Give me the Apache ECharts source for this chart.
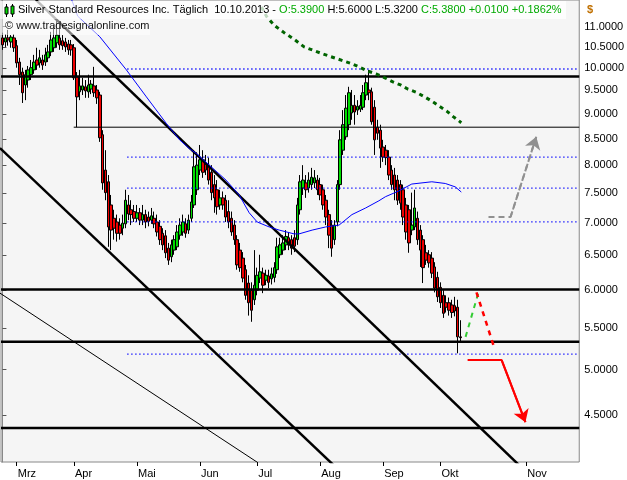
<!DOCTYPE html>
<html><head><meta charset="utf-8">
<script src="https://cdn.jsdelivr.net/npm/echarts@6/dist/echarts.min.js"></script>
<style>html,body{margin:0;padding:0;background:#fff}#c{width:627px;height:480px}</style>
</head><body><div id="c"></div>
<script>
// ---- data ----
const opens = [10.72,10.62,10.72,10.62,10.72,10.53,10.14,9.91,9.62,9.73,
9.85,9.96,10.19,10.12,10.19,10.14,10.24,10.38,10.48,10.60,
10.72,10.65,10.62,10.57,10.55,10.48,9.80,9.47,9.51,9.58,
9.47,9.53,9.60,9.51,9.40,8.58,7.91,7.70,7.30,7.08,
7.02,6.97,6.92,6.99,7.30,7.22,7.19,7.08,7.17,7.05,
7.14,7.10,7.05,7.08,7.02,6.95,6.84,6.80,6.61,6.48,
6.58,6.63,6.81,6.86,6.99,6.89,7.08,7.30,7.56,7.91,
8.10,8.02,8.00,7.87,7.65,7.56,7.30,7.42,7.38,7.19,
7.08,6.97,6.74,6.58,6.46,6.29,6.10,6.00,5.87,6.00,
6.17,6.24,6.14,6.20,6.16,6.18,6.29,6.51,6.58,6.66,
6.77,6.74,6.77,6.74,7.22,7.59,7.68,7.59,7.65,7.68,
7.73,7.65,7.56,7.38,7.14,6.97,6.74,7.02,7.65,8.28,
8.54,8.78,9.02,9.18,9.08,9.10,9.14,9.40,9.51,9.47,
9.14,8.73,8.67,8.34,8.28,8.15,7.91,7.82,7.73,7.65,
7.56,7.30,7.22,6.89,6.94,7.08,6.89,6.74,6.54,6.51,
6.46,6.33,6.18,6.04,5.93,5.83,5.83,5.80,5.79,5.77,
5.39];
const closes = [10.55,10.72,10.67,10.74,10.48,10.12,9.85,9.45,9.85,9.96,
10.01,10.14,10.07,10.24,10.07,10.31,10.38,10.67,10.72,10.79,
10.55,10.53,10.50,10.43,10.43,9.78,9.36,9.60,9.60,9.49,
9.62,9.64,9.45,9.34,8.52,7.68,7.51,6.94,6.89,6.92,
6.84,6.84,7.00,7.38,7.15,7.14,7.08,7.17,7.05,7.14,
7.02,7.03,7.12,6.99,6.86,6.74,6.66,6.54,6.43,6.66,
6.74,6.86,6.97,7.02,6.84,7.05,7.35,7.97,8.00,8.10,
7.87,7.91,7.73,7.51,7.42,7.27,7.42,7.30,7.10,7.02,
6.86,6.74,6.36,6.32,6.17,5.93,5.83,5.73,6.07,6.21,
6.26,6.07,6.21,6.11,6.23,6.32,6.63,6.66,6.69,6.79,
6.66,6.61,6.64,7.30,7.70,7.73,7.56,7.73,7.78,7.77,
7.56,7.47,7.30,7.10,6.81,6.61,6.97,7.65,8.48,8.78,
9.12,9.45,9.18,9.04,9.16,9.18,9.45,9.67,9.45,8.84,
8.48,8.61,8.32,8.15,8.14,7.82,7.65,7.56,7.38,7.33,
7.10,6.86,6.69,6.97,7.25,6.74,6.58,6.32,6.43,6.39,
6.24,6.03,5.91,5.83,5.69,5.77,5.73,5.70,5.72,5.39,
5.38];
const highs = [10.85,10.81,10.92,10.79,10.81,10.67,10.24,10.01,9.96,10.05,
10.19,10.31,10.48,10.43,10.31,10.48,10.55,10.87,11.04,11.17,
11.04,10.79,10.72,10.67,10.67,10.57,9.91,9.96,9.78,9.73,
9.85,9.73,10.03,9.62,9.47,8.67,8.28,7.82,7.47,7.22,
7.14,7.08,7.14,7.56,7.47,7.38,7.30,7.30,7.25,7.30,
7.22,7.19,7.25,7.19,7.14,7.05,6.92,6.89,6.69,6.74,
6.81,6.97,7.08,7.14,7.08,7.14,7.47,8.28,8.24,8.38,
8.28,8.19,8.14,8.00,7.82,7.73,7.56,7.53,7.47,7.38,
7.19,7.05,6.81,6.69,6.55,6.36,6.21,6.11,6.58,6.32,
6.51,6.32,6.29,6.29,6.32,6.40,6.77,6.77,6.81,6.89,
6.86,6.81,6.89,7.42,7.82,8.00,7.82,7.87,7.95,7.91,
7.82,7.77,7.65,7.47,7.22,7.05,7.05,7.73,8.67,9.08,
9.40,9.58,9.51,9.40,9.29,9.40,9.62,9.85,9.96,9.56,
9.29,8.88,8.78,8.48,8.38,8.28,8.00,7.95,7.82,7.73,
7.65,7.42,7.30,7.51,7.56,7.19,6.97,6.81,6.66,6.58,
6.55,6.40,6.26,6.11,6.00,5.93,5.90,5.87,5.91,5.87,
5.60];
const lows = [10.43,10.50,10.53,10.48,10.38,10.01,9.62,9.23,9.29,9.56,
9.73,9.87,9.96,10.01,9.96,10.05,10.14,10.28,10.38,10.48,
10.43,10.43,10.38,10.31,10.29,9.73,8.73,9.29,9.40,9.34,
9.34,9.42,9.36,9.21,8.44,7.56,7.38,6.63,6.58,6.74,
6.71,6.74,6.81,6.92,7.05,6.97,7.02,7.02,6.97,6.97,
6.92,6.95,6.99,6.92,6.79,6.66,6.58,6.46,6.36,6.40,
6.51,6.58,6.74,6.80,6.77,6.83,7.02,7.25,7.47,7.82,
7.77,7.82,7.65,7.38,7.17,7.14,7.22,7.22,7.02,6.92,
6.80,6.66,6.29,6.26,6.11,5.87,5.66,5.58,5.80,5.93,
6.10,5.96,6.07,6.03,6.08,6.11,6.23,6.46,6.51,6.58,
6.58,6.51,6.55,6.66,7.14,7.47,7.42,7.51,7.56,7.59,
7.47,7.38,7.22,6.97,6.61,6.48,6.66,6.95,7.56,8.19,
8.48,8.67,8.88,8.78,8.98,9.04,9.08,9.29,9.29,8.78,
8.19,8.48,7.95,8.06,8.00,7.73,7.56,7.38,7.30,7.22,
6.97,6.74,6.54,6.81,6.89,6.66,6.33,6.10,6.36,6.32,
6.17,5.97,5.84,5.76,5.63,5.70,5.66,5.63,5.65,5.19,
5.32];
const monthLabels = ['Mrz','Apr','Mai','Jun','Jul','Aug','Sep','Okt','Nov'];
const monthStartIdx = [5,25,47,69,89,111,133,153,183];
const yTicks = [4.5,5,5.5,6,6.5,7,7.5,8,8.5,9,9.5,10,10.5,11];
// moving averages [bar index, price]
const maBlue = [[24.2,11.70],[26.3,11.27],[34,10.75],[43.3,9.96],[50.3,9.36],[57.2,8.81],[61.9,8.48],[65.3,8.31],[67.7,8.22],[78.1,7.73],[82.7,7.47],[86.2,7.17],[89,7.02],[93.2,6.94],[96.7,6.89],[101.9,6.83],[103.6,6.83],[108.2,6.89],[112.9,6.94],[117.6,6.97],[122.1,7.14],[126.9,7.25],[131.5,7.37],[133.8,7.44],[138.5,7.54],[143,7.66],[150,7.70],[154.7,7.67],[158.2,7.61],[160.3,7.52]];
const maGreen = [[90.5,11.51],[92.2,11.27],[94.9,11.04],[98.4,10.85],[102.2,10.67],[105.4,10.50],[112,10.33],[118.6,10.18],[122.1,10.10],[124.8,10.02],[127.3,9.94],[130.5,9.87],[133.6,9.78],[136.4,9.69],[139.1,9.62],[141.6,9.53],[144.5,9.46],[147.2,9.37],[150,9.27],[152.7,9.16],[155.2,9.06],[157.6,8.94],[160.3,8.82]];
// drawn levels and trend lines
const thickLevels = [9.81, 6.01, 5.33, 4.37];
const thinLevel = {from: 24.9, price: 8.73};
const dottedLevels = [9.98, 8.15, 7.59, 7.02, 5.18];
const dottedFrom = 43.6;
const trendA = [[11.7,11.70],[180.6,4.01]];
const trendB = [[-0.85,8.32],[115.8,4.01]];
const trendC = [[-0.85,5.96],[89,4.04]];
const grayArrow = [[169.8,7.10],[177.5,7.10],[186.5,8.54]];
const greenDash = [[161.8,5.39],[166.3,5.97]];
const redDash = [[165.6,5.97],[171.6,5.28]];
const redArrow = [[162.5,5.11],[174.4,5.11],[182.7,4.43]];

// ---- chart ----
const N = 202;
const LN = Math.log;
const yMax = 2.4593, yMin = 1.3967;
const cats = Array.from({length: N}, (_, i) => String(i));
const candles = opens.map((o, i) => [LN(o), LN(closes[i]), LN(lows[i]), LN(highs[i])]);
const lnPts = arr => arr.map(p => [p[0], LN(p[1])]);
const isMonth = i => monthStartIdx.indexOf(i) >= 0;
const FONT = 'Liberation Sans';

const series = [{
  type: 'candlestick', xAxisIndex: 0, yAxisIndex: 0, data: candles, barWidth: 3, z: 2,
  itemStyle: {color: '#00dd00', color0: '#ee0000', borderColor: '#000', borderColor0: '#000', borderWidth: 1}
}];
function lineS(data, style, z) {
  series.push({type: 'line', xAxisIndex: 1, yAxisIndex: 0, data: data, showSymbol: false, symbol: 'none',
    lineStyle: style, z: z || 3, silent: true, animation: false});
}
thickLevels.forEach(p => lineS([[-0.5, LN(p)], [N - 0.5, LN(p)]], {color: '#000', width: 2.5}));
lineS([[thinLevel.from, LN(thinLevel.price)], [N - 0.5, LN(thinLevel.price)]], {color: '#000', width: 1});
dottedLevels.forEach(p => lineS([[dottedFrom, LN(p)], [N - 0.5, LN(p)]], {color: '#0000ff', width: 1.3, type: [1.3, 2.7]}));
lineS(lnPts(trendA), {color: '#000', width: 2.5});
lineS(lnPts(trendB), {color: '#000', width: 2.5});
lineS(lnPts(trendC), {color: '#000', width: 1});
lineS(lnPts(maBlue), {color: '#0000ff', width: 1});
lineS(lnPts(maGreen), {color: '#006400', width: 3, type: [4, 4]});
function arrowS(data, color, type, width, head) {
  const pts = lnPts(data);
  series.push({type: 'line', xAxisIndex: 1, yAxisIndex: 0, data: pts, showSymbol: false, symbol: 'none',
    lineStyle: {color: color, width: width, type: type}, z: 4, silent: true, animation: false});
  if (head) {
    series.push({type: 'lines', coordinateSystem: 'cartesian2d', xAxisIndex: 1, yAxisIndex: 0,
      symbol: ['none', 'arrow'], symbolSize: [9, 12], silent: true, animation: false, z: 5,
      lineStyle: {color: color, width: width, type: type, opacity: 1},
      data: [{coords: pts.slice(-2)}]});
  }
}
arrowS(grayArrow, '#909090', [6, 4], 2, true);
arrowS(greenDash, '#33cc33', [5, 5], 2, false);
arrowS(redDash, '#ff0000', [5, 5], 2.5, false);
arrowS(redArrow, '#ff0000', 'solid', 2, true);

const chart = echarts.init(document.getElementById('c'), null, {renderer: 'canvas'});
chart.setOption({
  animation: false,
  backgroundColor: '#ffffff',
  grid: {left: 1, right: 46, top: 0, bottom: 18, show: true, backgroundColor: '#f5f5f5', borderColor: '#888', borderWidth: 1},
  xAxis: [{
    type: 'category', data: cats, boundaryGap: true, position: 'bottom',
    axisLine: {show: false},
    axisTick: {show: true, alignWithLabel: true, interval: (i) => isMonth(i), length: 4, lineStyle: {color: '#000'}},
    axisLabel: {interval: (i) => isMonth(i), formatter: (v, i) => monthLabels[monthStartIdx.indexOf(i)] || '',
      align: 'left', margin: 6, color: '#000', fontSize: 11, fontFamily: FONT, padding: [0, 0, 0, 1]},
    splitLine: {show: false}
  }, {
    type: 'value', min: -0.5, max: N - 0.5, show: false
  }],
  yAxis: [{
    type: 'value', position: 'right', min: yMin, max: yMax, scale: true,
    axisLine: {show: true, lineStyle: {color: '#888'}},
    axisTick: {show: true, customValues: yTicks.map(LN), length: 4, lineStyle: {color: '#555'}},
    axisLabel: {customValues: yTicks.map(LN), formatter: v => Math.exp(v).toFixed(4), margin: 5,
      color: '#000', fontSize: 11, fontFamily: FONT},
    splitLine: {show: false}
  }],
  graphic: [
    {type: 'rect', shape: {x: 0, y: 1, width: 566, height: 18}, style: {fill: 'rgba(255,255,255,0.75)'}, z: 50},
    {type: 'rect', shape: {x: 0, y: 19, width: 150, height: 16}, style: {fill: 'rgba(255,255,255,0.5)'}, z: 50},
    {type: 'line', shape: {x1: 6.5, y1: 4, x2: 6.5, y2: 17}, style: {stroke: '#000', lineWidth: 1}, z: 55},
    {type: 'rect', shape: {x: 5, y: 7, width: 3, height: 7}, style: {fill: '#00dd00', stroke: '#000', lineWidth: 1}, z: 56},
    {type: 'line', shape: {x1: 12.5, y1: 4, x2: 12.5, y2: 17}, style: {stroke: '#000', lineWidth: 1}, z: 55},
    {type: 'rect', shape: {x: 11, y: 6, width: 3, height: 8}, style: {fill: '#00dd00', stroke: '#000', lineWidth: 1}, z: 56},
    {type: 'text', x: 18, y: 4, z: 60, style: {
      text: '{b|Silver Standard Resources Inc. Täglich  10.10.2013 - }{g|O:5.3900 }{b|H:5.6000 L:5.3200 }{g|C:5.3800 +0.0100 +0.1862%}',
      font: '11px ' + FONT,
      rich: {b: {fill: '#000', font: '11px ' + FONT}, g: {fill: '#00aa00', font: '11px ' + FONT}}
    }},
    {type: 'text', x: 5, y: 20, z: 60, style: {text: '© www.tradesignalonline.com', fill: '#111', font: '11px ' + FONT}},
    {type: 'text', x: 587, y: 4, z: 60, style: {text: '$', fill: '#c07000', font: 'bold 11px ' + FONT}}
  ],
  series: series
});
</script></body></html>
